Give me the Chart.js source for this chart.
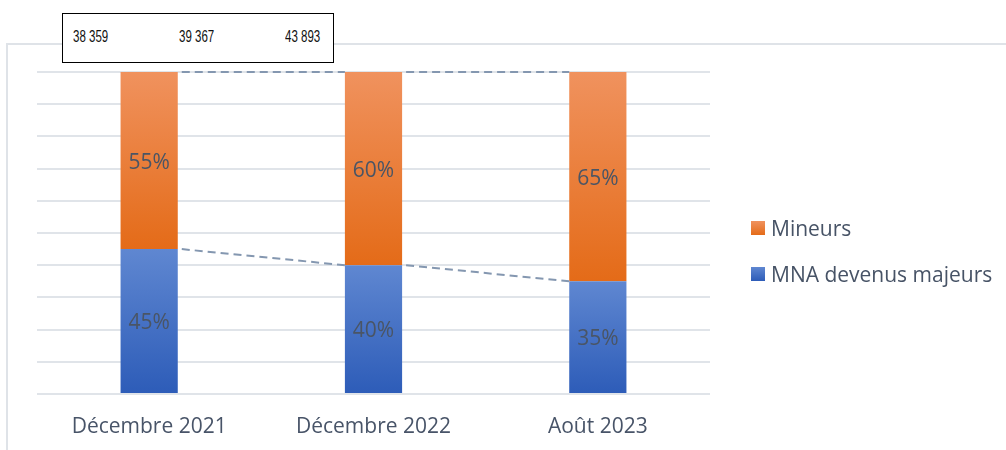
<!DOCTYPE html>
<html lang="fr">
<head>
<meta charset="utf-8">
<script src="https://cdn.jsdelivr.net/npm/chart.js@4.4.1/dist/chart.umd.min.js"></script>
<style>
  html, body { margin: 0; padding: 0; background: #fff; }
  body { width: 1006px; height: 450px; position: relative; overflow: hidden; font-family: 'Open Sans', sans-serif; }
  #frame { position: absolute; left: 6px; top: 43px; width: 1100px; height: 500px; border-left: 2px solid #dfe3e8; border-top: 2px solid #dfe3e8; }
  #wrap { position: absolute; left: 0; top: 0; width: 1006px; height: 450px; }
  #totals { position: absolute; left: 62px; top: 13px; width: 270px; height: 48px; border: 1.5px solid #000; background: #fff; }
  #totals span { position: absolute; top: 14px; white-space: nowrap; font-family: 'Liberation Sans', Arial, sans-serif; font-size: 16px; color: #111; transform: scaleX(0.72); transform-origin: left center; }
  #legend { position: absolute; left: 751px; top: 205px; }
  .leg { display: flex; align-items: center; height: 46px; color: #475366; font-size: 21px; }
  .leg i { display: inline-block; width: 14px; height: 14px; margin-right: 6px; }
</style>
</head>
<body>
<div id="frame"></div>
<div id="wrap"><canvas id="chart" width="1006" height="450"></canvas></div>
<div id="totals"></div>
<div id="legend"></div>
<script>
// ── Data ──────────────────────────────────────────────────────────────
const categories = ['Décembre 2021', 'Décembre 2022', 'Août 2023'];
const majeurs = [45, 40, 35];
const mineurs = [55, 60, 65];
const totals = ['38 359', '39 367', '43 893'];
const yTicks = [0, 10, 20, 30, 40, 50, 60, 70, 80, 90, 100];

const ORANGE = ['#f0925e', '#e46b18'];
const BLUE = ['#5f87d1', '#2d5cb8'];
const TEXT = '#485468';

// gradient per segment, top to bottom (pixel range from the y scale)
function segGradient(colors) {
  return ctx => {
    const chart = ctx.chart;
    const y = chart.scales.y;
    if (!chart.chartArea || ctx.type !== 'data' || !y) return colors[1];
    const sets = chart.data.datasets;
    let base = 0;
    for (let d = 0; d < ctx.datasetIndex; d++) base += sets[d].data[ctx.dataIndex];
    const top = base + sets[ctx.datasetIndex].data[ctx.dataIndex];
    const y0 = y.getPixelForValue(top), y1 = y.getPixelForValue(base);
    if (!isFinite(y0) || !isFinite(y1) || y0 === y1) return colors[1];
    const g = chart.ctx.createLinearGradient(0, y0, 0, y1);
    g.addColorStop(0, colors[0]);
    g.addColorStop(1, colors[1]);
    return g;
  };
}

// ── Plugins ───────────────────────────────────────────────────────────
const connectors = {
  id: 'connectors',
  afterDatasetsDraw(chart) {
    const c = chart.ctx;
    c.save();
    c.strokeStyle = '#8497b0';
    c.lineWidth = 2;
    c.setLineDash([8, 5]);
    chart.data.datasets.forEach((ds, di) => {
      const bars = chart.getDatasetMeta(di).data;
      for (let i = 0; i < bars.length - 1; i++) {
        const a = bars[i], b = bars[i + 1];
        c.beginPath();
        c.moveTo(a.x + a.width / 2 + 4, a.y);
        c.lineTo(b.x - b.width / 2, b.y);
        c.stroke();
      }
    });
    c.restore();
  }
};

const pctLabels = {
  id: 'pctLabels',
  afterDatasetsDraw(chart) {
    const c = chart.ctx;
    c.save();
    c.font = '21px "Open Sans"';
    c.fillStyle = '#4a5565';
    c.textAlign = 'center';
    c.textBaseline = 'middle';
    chart.data.datasets.forEach((ds, di) => {
      chart.getDatasetMeta(di).data.forEach((bar, i) => {
        c.fillText(ds.data[i] + '%', bar.x, (bar.y + bar.base) / 2 + 2);
      });
    });
    c.restore();
  }
};

// ── Chart ─────────────────────────────────────────────────────────────
const chart = new Chart(document.getElementById('chart'), {
  type: 'bar',
  data: {
    labels: categories,
    datasets: [
      { label: 'MNA devenus majeurs', data: majeurs, backgroundColor: segGradient(BLUE), legendColor: BLUE },
      { label: 'Mineurs', data: mineurs, backgroundColor: segGradient(ORANGE), legendColor: ORANGE }
    ]
  },
  options: {
    responsive: false,
    animation: false,
    events: [],
    layout: { padding: { left: 37, right: 296, top: 72, bottom: 0 } },
    datasets: { bar: { categoryPercentage: 1, barPercentage: 0.255 } },
    plugins: { legend: { display: false }, tooltip: { enabled: false } },
    scales: {
      x: {
        stacked: true,
        grid: { display: false },
        border: { display: false },
        ticks: { color: TEXT, font: { family: 'Open Sans', size: 21 }, padding: 12 },
        afterFit: s => { s.height = 56; }
      },
      y: {
        stacked: true,
        min: 0,
        max: 100,
        afterBuildTicks: s => { s.ticks = yTicks.map(v => ({ value: v })); },
        ticks: { display: false },
        border: { display: false },
        grid: { color: '#e0e4e9', lineWidth: 2, drawTicks: false }
      }
    }
  },
  plugins: [connectors, pctLabels]
});

// ── Totals box & legend ───────────────────────────────────────────────
const box = document.getElementById('totals');
totals.forEach((t, i) => {
  const s = document.createElement('span');
  s.textContent = t;
  s.style.left = (10 + i * 106) + 'px';
  box.appendChild(s);
});

const legend = document.getElementById('legend');
[...chart.data.datasets].reverse().forEach(ds => {
  const row = document.createElement('div');
  row.className = 'leg';
  row.innerHTML = `<i style="background:linear-gradient(${ds.legendColor[0]},${ds.legendColor[1]})"></i>${ds.label}`;
  legend.appendChild(row);
});
</script>
</body>
</html>
